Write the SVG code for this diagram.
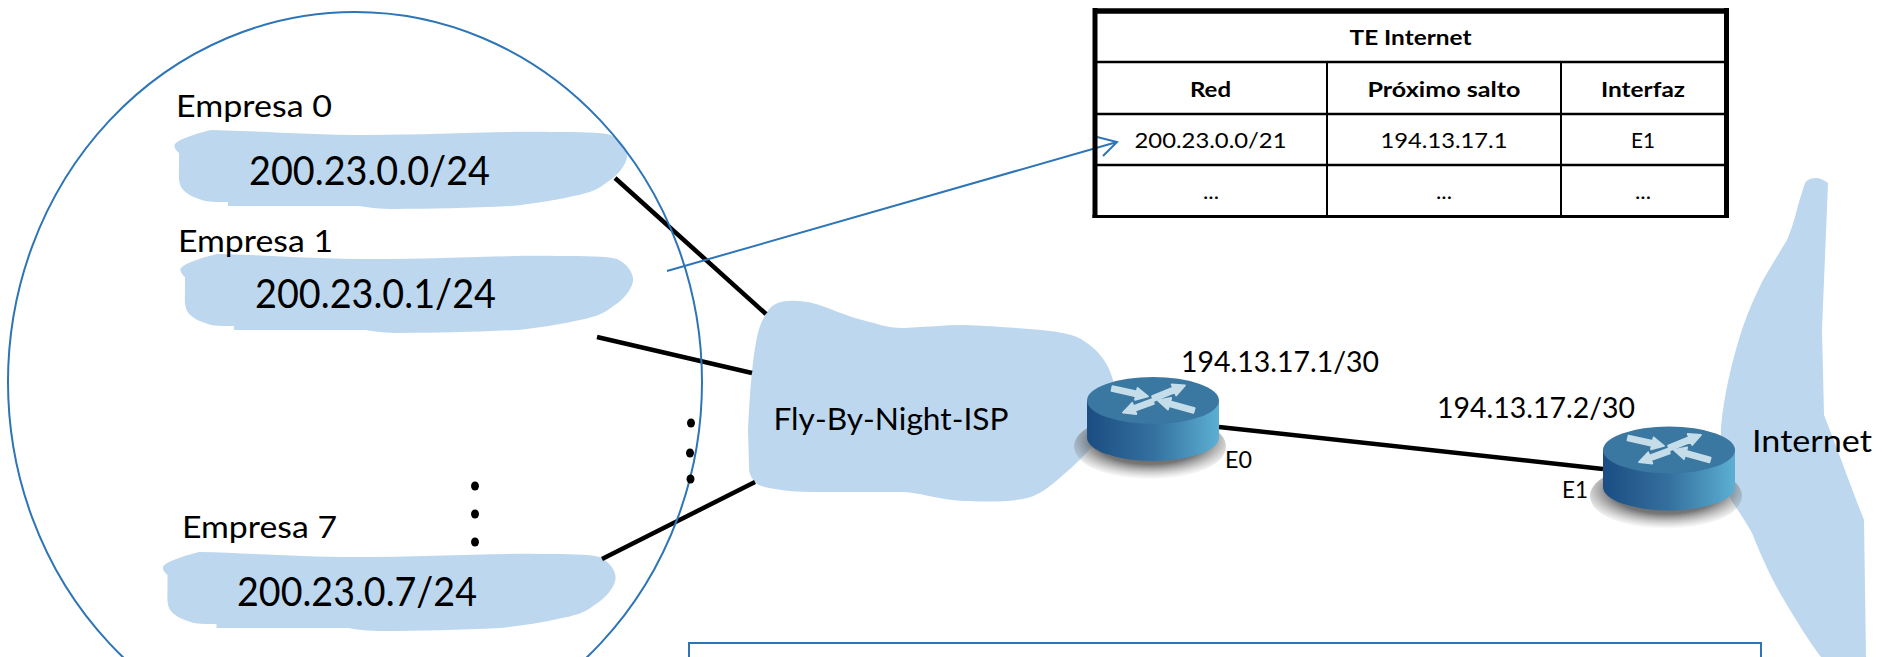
<svg xmlns="http://www.w3.org/2000/svg" width="1884" height="657" viewBox="0 0 1884 657">
<style>
text{font-family:"Lato","Liberation Sans",sans-serif;fill:#000}
.blob{fill:#bdd7ee}
.big{font-size:41px}
.lbl{font-size:31px}
.ip{font-size:28px}
.th{font-size:21px;font-weight:700;text-anchor:middle}
.td{font-size:21px;text-anchor:middle}
.e{font-size:23px}
.blue{fill:none;stroke:#2e75b6;stroke-width:2}
.link{stroke:#000;stroke-width:4.5;fill:none}
.grid{stroke:#000;fill:none}
.arr{fill:#c5dde9;stroke:#c5dde9;stroke-width:1.800;stroke-linejoin:round}
</style>
<defs>
<linearGradient id="side" x1="0" x2="1" y1="0" y2="0"><stop offset="0" stop-color="#1b4d82"/><stop offset=".5" stop-color="#34709f"/><stop offset="1" stop-color="#5cafd3"/></linearGradient>
<radialGradient id="shadow" cx=".5" cy=".4" r=".6"><stop offset="0" stop-color="#333" stop-opacity=".95"/><stop offset=".62" stop-color="#555" stop-opacity=".8"/><stop offset="1" stop-color="#999" stop-opacity="0"/></radialGradient>
<path id="cloud" d="M174.500 145C177 139 199 133 211 130C260 131 310 135 367 135C430 135 500 131 551 132C580 132 600 132 611 135C622 140 628 150 627 157C626 166 616 177 606 183C596 191 585 194 569 197C552 201 530 204 512 206C470 208 430 209 395 209C380 209 370 208 360 206L228 206L228 202C216 202 208 202 202 200C192 197 185 193 181 187C178 180 179 175 179 167L179 153C176 150 174 148 174.500 145Z"/>
<g id="router">
<ellipse cx="-3" cy="46" rx="76" ry="33" fill="url(#shadow)"/>
<path d="M-66 0V37A66 23.500 0 0 0 66 37V0Z" fill="url(#side)"/>
<ellipse cx="0" cy="0" rx="66" ry="23.500" fill="#3a77a1"/>
<polygon class="arr" points="-40.500,-14.400 -16.200,-9 -15.400,-12.500 -5,-4 -18,-0.700 -17.200,-4.200 -41.500,-9.600"/>
<polygon class="arr" points="-0.900,-4.300 20,-12.800 18.600,-16 32,-15 23.200,-5 21.800,-8.200 0.900,0.300"/>
<polygon class="arr" points="-0.900,-1.300 -19.600,5.600 -20.800,2.300 -30,12 -16.600,13.500 -17.800,10.200 0.900,3.300"/>
<polygon class="arr" points="41.700,7.600 17.300,0.800 18.200,-2.600 5,0 15,9 15.900,5.600 40.300,12.400"/>
</g>
</defs>

<g id="internet"><path class="blob" d="M1816 178C1810 178 1806 181 1805 183C1801 195 1798 205 1795 217C1793 225 1790 232 1787 240C1778 255 1770 268 1763 280C1755 296 1748 312 1742.500 328C1732 360 1724 395 1721 427C1720 450 1724 480 1731 500C1739 512 1746 522 1752 533C1762 558 1772 580 1784 600C1796 620 1808 640 1821 657L1866 657L1864 520C1852 490 1838 450 1824 415L1822 330L1828 183C1824 180 1820 178 1816 178Z"/><text class="lbl" x="1752" y="452" textLength="120" lengthAdjust="spacingAndGlyphs">Internet</text></g>

<g id="empresa0"><use href="#cloud" class="blob"/><text class="lbl" x="176" y="117" textLength="156" lengthAdjust="spacingAndGlyphs">Empresa 0</text><text class="big" x="249" y="185" textLength="241" lengthAdjust="spacingAndGlyphs">200.23.0.0/24</text></g>
<g id="empresa1"><use href="#cloud" class="blob" transform="translate(6 124)"/><text class="lbl" x="178" y="252" textLength="155" lengthAdjust="spacingAndGlyphs">Empresa 1</text><text class="big" x="255" y="308" textLength="241" lengthAdjust="spacingAndGlyphs">200.23.0.1/24</text></g>
<g id="empresa7"><use href="#cloud" class="blob" transform="translate(-11.500 422)"/><text class="lbl" x="182" y="538" textLength="155" lengthAdjust="spacingAndGlyphs">Empresa 7</text><text class="big" x="237" y="606" textLength="240" lengthAdjust="spacingAndGlyphs">200.23.0.7/24</text></g>

<g id="isp"><path class="blob" d="M766 314C770 306 778 301 788 301C800 300 812 302 825 307C845 315 860 320 874 323C885 327 895 328 905 328C925 327 945 325 963 325C990 326 1020 328 1041 330C1060 332 1074 334 1084 341C1098 350 1108 362 1113 380L1120 400L1095 443C1085 455 1075 465 1063 475C1052 485 1042 493 1031 497C1012 502 990 502 970 501C955 501 945 499 934 497C920 494 910 492 899 492L827 492C810 492 795 492 781 490C770 488 760 487 756 483C751 478 749 473 749 467L748 430C749 410 750 390 752 373C753 360 755 347 757 337C759 328 762 320 766 314Z"/><text class="lbl" x="773.500" y="430" textLength="235" lengthAdjust="spacingAndGlyphs">Fly-By-Night-ISP</text></g>

<g id="connectors">
<path class="link" d="M615 178L766 314"/>
<path class="link" d="M597 337L752 373"/>
<path class="link" d="M602 559L755 482"/>
<path class="link" d="M1219 427L1603 469"/>
<path class="blue" d="M667 271L1117 142M1097 137L1117 142L1103 156"/>
</g>

<g id="router0"><use href="#router" x="1153" y="400.500"/><text class="ip" x="1181" y="372" textLength="198" lengthAdjust="spacingAndGlyphs">194.13.17.1/30</text><text class="e" x="1225" y="468" textLength="27" lengthAdjust="spacingAndGlyphs">E0</text></g>
<g id="router1"><use href="#router" x="1669" y="450"/><text class="ip" x="1437" y="418" textLength="198" lengthAdjust="spacingAndGlyphs">194.13.17.2/30</text><text class="e" x="1562" y="498" textLength="26" lengthAdjust="spacingAndGlyphs">E1</text></g>

<g id="zona"><ellipse class="blue" cx="355" cy="382" rx="347" ry="370"/>
<g fill="#000"><ellipse cx="475" cy="486" rx="4" ry="4.500"/><ellipse cx="475" cy="514" rx="4" ry="4.500"/><ellipse cx="475" cy="542" rx="4" ry="4.500"/><ellipse cx="691" cy="423" rx="4" ry="4.500"/><ellipse cx="690" cy="453" rx="4" ry="4.500"/><ellipse cx="690.500" cy="479" rx="4" ry="4.500"/></g></g>

<g id="tabla">
<path class="grid" stroke-width="5.500" d="M1095 11H1726.500"/>
<path class="grid" stroke-width="5" d="M1095 8V218M1726.500 8V218"/>
<path class="grid" stroke-width="3" d="M1092.500 216.500H1729"/>
<path class="grid" stroke-width="2.500" d="M1095 62H1727M1095 114H1727M1095 165H1727"/>
<path class="grid" stroke-width="2" d="M1327 62V217M1561 62V217"/>
<text class="th" x="1410.500" y="45" textLength="122" lengthAdjust="spacingAndGlyphs">TE Internet</text>
<text class="th" x="1210.500" y="97" textLength="41" lengthAdjust="spacingAndGlyphs">Red</text>
<text class="th" x="1444" y="97" textLength="153" lengthAdjust="spacingAndGlyphs">Próximo salto</text>
<text class="th" x="1643" y="97" textLength="84" lengthAdjust="spacingAndGlyphs">Interfaz</text>
<text class="td" x="1210.500" y="148" textLength="152" lengthAdjust="spacingAndGlyphs">200.23.0.0/21</text>
<text class="td" x="1444" y="148" textLength="127" lengthAdjust="spacingAndGlyphs">194.13.17.1</text>
<text class="td" x="1643" y="148" textLength="24" lengthAdjust="spacingAndGlyphs">E1</text>
<text class="td" x="1211" y="199" textLength="16" lengthAdjust="spacingAndGlyphs">...</text>
<text class="td" x="1444" y="199" textLength="16" lengthAdjust="spacingAndGlyphs">...</text>
<text class="td" x="1643" y="199" textLength="16" lengthAdjust="spacingAndGlyphs">...</text>
</g>

<rect id="cuadro" class="blue" x="689" y="643" width="1072" height="40"/>
</svg>
